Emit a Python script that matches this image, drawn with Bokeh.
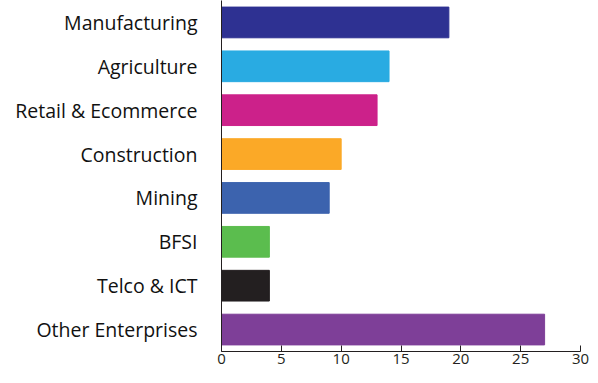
from bokeh.plotting import figure
from bokeh.models import FactorRange, Range1d, ColumnDataSource, FixedTicker
from bokeh.embed import file_html
from bokeh.resources import INLINE

categories = ["Manufacturing", "Agriculture", "Retail & Ecommerce", "Construction",
              "Mining", "BFSI", "Telco & ICT", "Other Enterprises"]
values = [19, 14, 13, 10, 9, 4, 4, 27]
colors = ["#2E3192", "#29ABE2", "#CC218A", "#FBA927",
          "#3C63AE", "#5BBD4E", "#231F20", "#7E3F98"]
x_ticks = [0, 5, 10, 15, 20, 25, 30]

source = ColumnDataSource(dict(cat=categories, val=values, color=colors))

p = figure(width=590, height=375, output_backend="svg", toolbar_location=None,
           y_range=FactorRange(factors=categories[::-1], range_padding=0),
           x_range=Range1d(0, 30),
           min_border_left=221, min_border_top=0, min_border_right=10, min_border_bottom=24)

p.hbar(y="cat", right="val", left=0, height=0.7, color="color", source=source)

p.outline_line_color = None
p.xgrid.grid_line_color = None
p.ygrid.grid_line_color = None
p.background_fill_color = "white"
p.border_fill_color = "white"

ax = p.xaxis[0]
ax.ticker = FixedTicker(ticks=x_ticks)
ax.major_tick_in = 6
ax.major_tick_out = 0
ax.minor_tick_in = 0
ax.minor_tick_out = 0
ax.axis_line_color = "#231F20"
ax.major_tick_line_color = "#231F20"
ax.major_label_text_font = "Open Sans"
ax.major_label_text_font_size = "15px"
ax.major_label_text_color = "#231F20"
ax.major_label_standoff = 2

ay = p.yaxis[0]
ay.major_tick_in = 0
ay.major_tick_out = 0
ay.minor_tick_in = 0
ay.minor_tick_out = 0
ay.axis_line_color = "#231F20"
ay.major_label_text_font = "Open Sans"
ay.major_label_text_font_size = "19.5px"
ay.major_label_text_color = "#111111"
ay.major_label_standoff = 24

open("out.html", "w").write(file_html(p, INLINE))
